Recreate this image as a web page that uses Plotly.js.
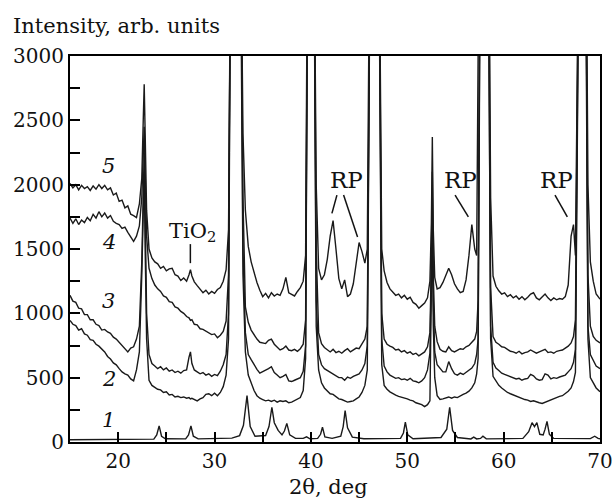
<!DOCTYPE html>
<html>
<head>
<meta charset="utf-8">
<script src="https://cdn.plot.ly/plotly-3.0.1.min.js"></script>
<style>html,body{margin:0;padding:0;background:#fff;}#chart{width:614px;height:498px;}</style>
</head>
<body>
<div id="chart"></div>
<script>
// common 2-theta grid for patterns 2-5 (deg)
const theta = [
15.0,15.3,15.6,15.9,16.2,16.5,16.8,17.1,17.4,17.7,
18.0,18.3,18.6,18.9,19.2,19.5,19.8,20.1,20.4,20.7,
21.0,21.3,21.6,21.9,22.2,22.45,22.6,22.7,22.8,22.95,
23.2,23.5,23.8,24.1,24.4,24.7,25.0,25.3,25.6,25.9,
26.2,26.5,26.8,27.1,27.35,27.5,27.65,27.9,28.2,28.5,
28.8,29.1,29.4,29.7,30.0,30.3,30.6,30.9,31.2,31.45,
31.6,32.2,32.8,32.95,33.2,33.5,33.8,34.1,34.4,34.7,
35.0,35.3,35.6,35.9,36.2,36.5,36.8,37.1,37.4,37.7,
38.0,38.3,38.6,38.9,39.2,39.45,39.6,40.0,40.4,40.55,
40.8,41.1,41.4,41.7,42.0,42.3,42.6,42.9,43.2,43.5,
43.8,44.1,44.4,44.7,45.0,45.3,45.6,45.85,46.05,46.6,
47.15,47.35,47.6,47.9,48.2,48.5,48.8,49.1,49.4,49.7,
50.0,50.3,50.6,50.9,51.2,51.5,51.8,52.1,52.35,52.5,
52.6,52.7,52.85,53.1,53.4,53.7,54.0,54.3,54.6,54.9,
55.2,55.5,55.8,56.1,56.4,56.7,57.0,57.2,57.35,57.5,
58.0,58.5,58.65,58.9,59.2,59.5,59.8,60.1,60.4,60.7,
61.0,61.3,61.6,61.9,62.2,62.5,62.8,63.1,63.4,63.7,
64.0,64.3,64.6,64.9,65.2,65.5,65.8,66.1,66.4,66.7,
67.0,67.25,67.45,67.7,68.1,68.6,68.75,69.0,69.3,69.6,
70.0];

const pattern5 = [
2010,1975,2000,1960,1995,1970,1985,1955,1990,1965,
2000,1970,1995,1960,1975,1920,1935,1870,1880,1820,
1835,1770,1760,1745,1850,2050,2500,2780,2400,1800,
1500,1430,1400,1385,1350,1365,1330,1345,1350,1300,
1290,1255,1275,1250,1300,1340,1290,1245,1215,1190,
1160,1180,1150,1170,1155,1185,1200,1250,1340,1650,
3500,9000,3500,2400,1800,1520,1400,1310,1240,1180,
1130,1155,1120,1160,1135,1150,1140,1190,1280,1160,
1150,1135,1170,1200,1250,1450,3400,9000,3400,2000,
1350,1260,1300,1420,1600,1720,1500,1270,1190,1260,
1130,1150,1230,1400,1550,1480,1390,1500,3400,9000,
3400,1500,1330,1240,1190,1165,1140,1150,1120,1140,
1110,1125,1085,1070,1040,1060,1080,1120,1250,1700,
2370,1650,1280,1190,1200,1240,1290,1350,1300,1230,
1190,1160,1170,1260,1450,1690,1500,1450,3000,4500,
9000,3600,1900,1290,1210,1175,1150,1160,1130,1145,
1120,1135,1110,1130,1105,1125,1150,1160,1120,1105,
1125,1150,1120,1100,1120,1105,1115,1110,1130,1220,
1600,1690,1450,3300,9000,3300,2000,1400,1250,1150,
1110];

const pattern4 = [
1740,1700,1735,1690,1725,1705,1745,1720,1770,1740,
1790,1750,1780,1740,1760,1715,1700,1690,1660,1670,
1630,1595,1560,1600,1680,1900,2300,2450,2100,1600,
1350,1270,1220,1190,1170,1135,1125,1090,1085,1050,
1040,1015,1000,975,965,945,950,915,910,880,
875,860,850,835,840,810,830,860,940,1300,
3300,9000,3300,1900,1050,930,870,830,800,775,
770,765,790,800,760,735,715,725,745,715,
710,720,705,725,760,950,3200,9000,3200,1500,
850,765,735,715,700,720,695,705,690,710,
725,700,715,730,725,760,800,900,3200,9000,
3200,1000,800,760,745,735,715,720,700,710,
690,700,680,690,670,685,700,740,850,1400,
2100,1300,900,780,720,705,700,740,710,700,
715,725,720,740,750,775,800,860,1100,3300,
9000,3300,1200,820,775,760,740,735,720,705,
700,690,705,685,695,700,715,705,690,700,
710,720,695,700,690,705,710,715,730,745,
770,820,950,3200,9000,3200,1300,900,820,790,
770];

const pattern3 = [
1140,1095,1085,1040,1035,990,990,950,950,915,
905,870,875,855,845,815,800,775,745,720,
700,730,740,800,900,1400,2100,2250,1800,1000,
680,610,590,570,585,560,575,550,560,540,
550,535,555,560,660,700,610,560,545,530,
540,520,530,510,525,515,550,600,680,1000,
3200,9000,3200,1500,850,680,640,600,565,535,
545,560,570,585,540,520,500,510,525,475,
470,480,490,500,550,750,3000,9000,3000,1100,
680,600,570,555,540,530,515,500,500,480,
505,495,510,520,530,560,610,750,3000,9000,
3000,800,590,545,520,505,495,500,485,490,
480,495,475,470,460,475,500,560,690,1300,
1900,1100,700,600,575,545,545,625,570,530,
520,535,525,540,555,575,610,680,800,3000,
9000,3000,900,620,575,555,535,525,515,505,
500,490,495,480,490,495,525,515,490,480,
485,530,520,490,500,495,505,510,520,545,
570,620,720,3000,9000,3000,900,680,640,590,
570];

const pattern2 = [
945,915,905,870,880,840,830,795,790,760,
745,720,700,665,645,615,600,570,545,530,
520,490,475,560,700,1300,1950,2100,1500,800,
480,440,425,410,405,385,390,365,370,350,
355,345,350,340,345,335,340,330,320,335,
345,370,375,360,380,360,385,430,520,800,
3000,9000,3000,1300,700,520,460,400,360,340,
330,320,325,315,325,310,320,315,320,305,
310,320,330,345,400,650,2800,9000,2800,900,
560,460,420,400,375,370,350,335,330,320,
310,315,320,335,350,385,440,560,2800,9000,
2800,600,440,410,390,375,365,355,350,340,
335,325,320,305,300,290,275,290,320,1200,
1750,900,500,360,330,335,345,350,340,350,
345,360,370,380,395,420,460,530,650,2800,
9000,2800,800,510,470,440,420,400,385,375,
365,355,345,340,330,325,315,320,310,305,
300,310,315,330,335,345,355,360,375,395,
420,470,540,2800,9000,2800,800,500,460,420,
390];

// reference pattern 1 (own grid)
const theta1 = [15,18,21,23.7,24.0,24.25,24.5,24.9,27.0,27.3,27.55,27.8,28.3,31.8,32.6,33.0,33.37,33.7,34.2,
35.3,35.65,35.95,36.2,36.6,37.0,37.25,37.5,37.8,38.4,39.2,39.55,39.9,40.7,41.0,41.2,41.45,
42.2,43.1,43.35,43.55,43.8,44.3,45.5,49.3,49.6,49.8,50.05,50.6,53.5,54.1,54.4,54.7,55.2,
56.6,56.9,57.2,57.6,57.85,58.2,62.0,62.6,62.95,63.2,63.45,63.75,64.1,64.3,64.5,64.75,65.2,
69.0,69.45,69.8,70];
const pattern1 = [18,20,18,22,55,125,45,25,24,55,125,45,24,30,50,130,360,120,45,
50,120,270,150,90,55,85,145,55,28,28,40,25,28,60,115,40,
28,45,120,245,110,38,25,28,70,155,55,25,35,100,270,90,35,
24,38,24,28,45,24,28,80,150,120,150,60,55,100,160,60,28,
26,45,28,25];

const curveLabels = ['1','2','3','4','5'];
const xTickVals = [20,30,40,50,60,70];

const serif = 'DejaVu Serif';
const ink = '#111';
const lineStyle = {color:'#1a1a1a', width:1.4};
const traces = [
  {x:theta1, y:pattern1},
  {x:theta, y:pattern2},
  {x:theta, y:pattern3},
  {x:theta, y:pattern4},
  {x:theta, y:pattern5}
].map(t => Object.assign(t, {type:'scatter', mode:'lines', line:lineStyle, hoverinfo:'skip', showlegend:false}));

// label anchor positions (data units)
const labelPos = [[19.0,172],[19.0,492],[19.0,1094],[19.0,1555],[19.0,2146]];
const annotations = curveLabels.map((t,i)=>({
  x:labelPos[i][0], y:labelPos[i][1], xref:'x', yref:'y', text:'<i>'+t+'</i>',
  showarrow:false, font:{family:serif, size:21, color:ink}, xanchor:'center', yanchor:'middle'
}));
annotations.push(
  {x:27.7, y:1635, xref:'x', yref:'y', text:'TiO<sub>2</sub>', showarrow:false, font:{family:serif,size:21,color:ink}, xanchor:'center', yanchor:'middle'},
  {x:43.66, y:2035, xref:'x', yref:'y', text:'RP', showarrow:false, font:{family:serif,size:23,color:ink}, xanchor:'center', yanchor:'middle'},
  {x:55.48, y:2035, xref:'x', yref:'y', text:'RP', showarrow:false, font:{family:serif,size:23,color:ink}, xanchor:'center', yanchor:'middle'},
  {x:65.44, y:2035, xref:'x', yref:'y', text:'RP', showarrow:false, font:{family:serif,size:23,color:ink}, xanchor:'center', yanchor:'middle'},
  {x:-0.111, y:1.078, xref:'paper', yref:'paper', text:'Intensity, arb. units', showarrow:false, font:{family:serif,size:21,color:ink}, xanchor:'left', yanchor:'middle'},
  {x:0.487, y:-0.116, xref:'paper', yref:'paper', text:'2θ, deg', showarrow:false, font:{family:serif,size:21,color:ink}, xanchor:'center', yanchor:'middle'}
);
const pointer = (x0,y0,x1,y1)=>({type:'line', xref:'x', yref:'y', x0, y0, x1, y1, line:{color:ink, width:1.5}});
const shapes = [
  pointer(27.49,1538,27.49,1390),
  pointer(42.70,1919,42.18,1777),
  pointer(43.39,1919,44.84,1594),
  pointer(54.96,1919,56.34,1750),
  pointer(65.33,1919,66.61,1750)
];

const axisCommon = {
  showline:true, mirror:true, linecolor:'#000', linewidth:2,
  ticks:'inside', ticklen:10, tickwidth:2, tickcolor:'#000',
  showgrid:false, zeroline:false,
  tickfont:{family:serif, size:20, color:ink}
};
const layout = {
  width:614, height:498,
  margin:{l:70, r:14, t:56, b:56},
  paper_bgcolor:'#fff', plot_bgcolor:'#fff',
  font:{family:serif},
  xaxis:Object.assign({}, axisCommon, {range:[15,70], tickvals:xTickVals, ticktext:xTickVals.map(String),
    minor:{dtick:5, tick0:0, ticks:'inside', ticklen:10, tickwidth:2, tickcolor:'#000', showgrid:false}}),
  yaxis:Object.assign({}, axisCommon, {range:[0,3000], dtick:500, tick0:0,
    minor:{dtick:250, tick0:0, ticks:'inside', ticklen:10, tickwidth:2, tickcolor:'#000', showgrid:false}}),
  annotations, shapes
};
Plotly.newPlot('chart', traces, layout, {staticPlot:true, displayModeBar:false});
</script>
</body>
</html>
